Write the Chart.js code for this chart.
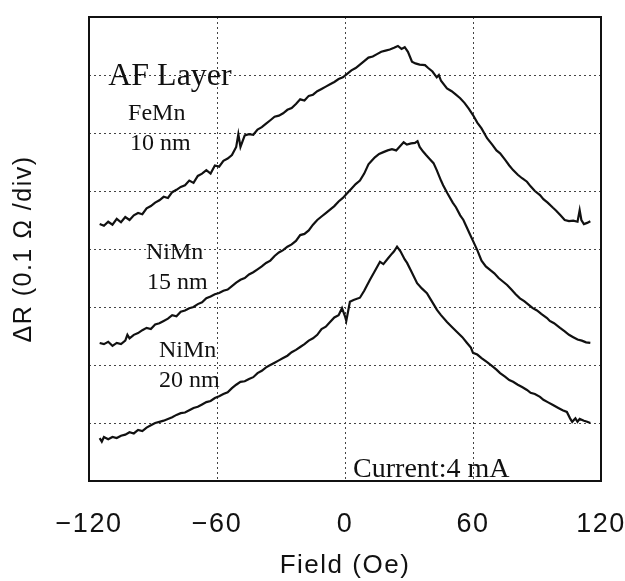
<!DOCTYPE html>
<html>
<head>
<meta charset="utf-8">
<script src="https://cdn.jsdelivr.net/npm/chart.js@4"></script>
<style>
  html, body { margin: 0; padding: 0; background: #fff; }
  #chart { display: block; }
</style>
</head>
<body>
<canvas id="chart" width="625" height="581"></canvas>
<script>
// Field (Oe) / Delta R (divisions, 0.1 ohm each)
const feMnField = [-115,-113,-111,-109,-107,-105,-103,-101,-99,-97,-95,-93,-91,-89,-87,-85,-83,-81,-79,-77,-75,-73,-71,-69,-67,-65,-63,-61,-59,-57,-55,-53,-51,-50,-49,-47,-45,-43,-41,-39,-37,-35,-33,-31,-29,-27,-25,-23,-21,-19,-17,-15,-13,-11,-9,-7,-5,-3,-1,1,3,5,7,9,11,13,15,17,19,21,23,24.8,26.5,28,29.5,31.4,33,35,37.5,39,41,43,44,45,47.8,50,52,54,56,58,60,62,64,66.6,69,71,72.7,75,77,78.8,81,83,85.3,87,89,91.4,93,95,97.5,99,101,103,105,107,109,110,110.8,112,113.5,115];
const feMnDR = [4.43,4.40,4.47,4.42,4.52,4.46,4.55,4.50,4.58,4.62,4.60,4.70,4.74,4.80,4.84,4.90,4.88,4.98,5.02,5.07,5.10,5.18,5.14,5.26,5.30,5.36,5.30,5.44,5.42,5.52,5.56,5.62,5.76,5.98,5.76,5.96,5.98,5.97,6.06,6.10,6.16,6.22,6.28,6.30,6.34,6.40,6.43,6.50,6.58,6.56,6.64,6.66,6.72,6.76,6.80,6.84,6.88,6.93,6.96,7.02,7.08,7.12,7.18,7.24,7.30,7.32,7.36,7.40,7.42,7.44,7.47,7.50,7.45,7.48,7.40,7.23,7.20,7.18,7.17,7.12,7.06,6.96,7.00,6.90,6.77,6.72,6.66,6.60,6.52,6.42,6.31,6.18,6.08,5.91,5.80,5.70,5.65,5.54,5.44,5.36,5.28,5.22,5.16,5.08,5.00,4.93,4.86,4.80,4.71,4.66,4.58,4.50,4.48,4.49,4.47,4.67,4.50,4.43,4.45,4.48];

const niMn15Field = [-115,-113,-111,-109,-107,-105,-103,-102,-101,-99,-97,-95,-93,-91,-89,-87,-85,-83,-81,-79,-77,-75,-73,-71,-69,-67,-65,-63,-61,-59,-57,-55,-53,-51,-49,-47,-45,-43,-41,-39,-37,-35,-33,-31,-29,-27,-25,-23,-21,-19,-17,-15,-13,-11,-9,-7,-5,-3,-1,1,3,5,7,9,11,12.5,14,16,18,20,22,24,26,27.5,29,31,32.8,34,35,36.6,38,40,41.5,43,45,46,48,50.5,52,54,55.5,57,58.5,60,62,64,66,68,70,72,74,76,78,80,82,84,86,88,90,92,94.7,96,98,100.8,103,105,107,109,111,113,115];
const niMn15DR = [2.38,2.36,2.40,2.33,2.38,2.36,2.42,2.52,2.46,2.52,2.55,2.60,2.64,2.62,2.70,2.72,2.76,2.80,2.86,2.84,2.92,2.94,2.98,3.00,3.05,3.08,3.15,3.18,3.22,3.24,3.28,3.30,3.36,3.42,3.47,3.50,3.56,3.60,3.65,3.70,3.76,3.80,3.88,3.94,3.98,4.04,4.08,4.14,4.24,4.26,4.32,4.42,4.50,4.56,4.62,4.68,4.74,4.82,4.88,4.96,5.04,5.12,5.18,5.30,5.46,5.52,5.58,5.64,5.67,5.70,5.72,5.70,5.78,5.84,5.80,5.82,5.83,5.86,5.76,5.68,5.62,5.54,5.48,5.36,5.18,5.10,4.96,4.80,4.72,4.58,4.50,4.38,4.26,4.14,3.98,3.80,3.70,3.64,3.58,3.50,3.44,3.38,3.30,3.22,3.15,3.10,3.04,2.98,2.94,2.88,2.81,2.76,2.72,2.64,2.58,2.52,2.48,2.44,2.42,2.39,2.38];

const niMn20Field = [-115,-114,-113,-111,-109,-107,-105,-103,-101,-99,-97,-95,-93,-91,-89,-87,-85,-83,-81,-79,-77,-75,-73,-71,-69,-67,-65,-63,-61,-59,-57,-55,-53,-51,-49,-47,-45,-43,-41,-39,-37,-35,-33,-31,-29,-27,-25,-23,-21,-19,-17,-15,-13,-11,-9,-7,-5,-3,-1.4,0,0.6,2.3,4,7,9,11.7,14,16.4,18,20.2,22,23,24.4,26,28,29.1,31,33.8,36,38.4,40,42,43.1,45,47.8,50,52.5,55,57.2,59,60,62,64,66.6,69,71,72.7,75,77,78.8,81,83,85.3,87,89,91.4,93,95,97.5,100,102,104,105.5,106.5,108,109,110,112,113.5,115];
const niMn20DR = [0.74,0.68,0.76,0.72,0.76,0.74,0.78,0.80,0.84,0.82,0.88,0.86,0.92,0.96,1.00,1.02,1.04,1.07,1.10,1.14,1.17,1.18,1.22,1.26,1.28,1.32,1.36,1.38,1.43,1.46,1.50,1.53,1.60,1.66,1.71,1.72,1.76,1.79,1.86,1.90,1.96,2.00,2.04,2.08,2.12,2.16,2.22,2.26,2.31,2.36,2.42,2.46,2.52,2.62,2.66,2.74,2.82,2.86,2.98,2.84,2.76,3.09,3.12,3.16,3.28,3.47,3.62,3.78,3.74,3.84,3.92,3.96,4.04,3.96,3.82,3.76,3.62,3.41,3.32,3.24,3.14,3.02,2.95,2.86,2.74,2.66,2.57,2.48,2.38,2.30,2.21,2.18,2.12,2.05,1.98,1.92,1.86,1.80,1.74,1.71,1.66,1.62,1.57,1.52,1.50,1.45,1.40,1.36,1.31,1.26,1.22,1.19,1.08,1.02,1.08,1.02,1.07,1.04,1.02,1.00];

const xTicks = [-120, -60, 0, 60, 120];

// Text labels inside the plot (x in Oe, y in divisions)
const notes = [
  { text: 'AF Layer', x: -111, y: 6.83, size: 32 },
  { text: 'FeMn', x: -101.7, y: 6.22, size: 24 },
  { text: '10 nm', x: -100.8, y: 5.71, size: 24 },
  { text: 'NiMn', x: -93.3, y: 3.83, size: 24 },
  { text: '15 nm', x: -92.8, y: 3.31, size: 24 },
  { text: 'NiMn', x: -87.2, y: 2.14, size: 24 },
  { text: '20 nm', x: -87.2, y: 1.62, size: 24 },
  { text: 'Current:4 mA', x: 3.8, y: 0.07, size: 28 }
];

function toPoints(xs, ys) {
  return xs.map((x, i) => ({ x: x, y: ys[i] }));
}

function trace(xs, ys) {
  return {
    data: toPoints(xs, ys),
    borderColor: '#111',
    borderWidth: 2.2,
    pointRadius: 0,
    tension: 0,
    fill: false
  };
}

// espacement des lettres pour les textes d'axes (police type "machine")
const spacing = {
  id: 'spacing',
  beforeUpdate(chart) {
    chart.ctx.letterSpacing = '1.5px';
  }
};

// cadre + annotations
const frameAndNotes = {
  id: 'frameAndNotes',
  afterDatasetsDraw(chart) {
    const ctx = chart.ctx;
    const a = chart.chartArea;
    const xs = chart.scales.x, ys = chart.scales.y;
    ctx.save();
    ctx.letterSpacing = '0px';
    ctx.strokeStyle = '#111';
    ctx.lineWidth = 2;
    ctx.strokeRect(a.left, a.top, a.right - a.left, a.bottom - a.top);
    ctx.fillStyle = '#111';
    ctx.textBaseline = 'alphabetic';
    ctx.textAlign = 'left';
    notes.forEach(n => {
      ctx.font = n.size + 'px "Liberation Serif", "Times New Roman", serif';
      ctx.fillText(n.text, xs.getPixelForValue(n.x), ys.getPixelForValue(n.y));
    });
    ctx.restore();
  }
};

new Chart(document.getElementById('chart'), {
  type: 'line',
  data: {
    datasets: [
      trace(feMnField, feMnDR),
      trace(niMn15Field, niMn15DR),
      trace(niMn20Field, niMn20DR)
    ]
  },
  options: {
    responsive: false,
    animation: false,
    devicePixelRatio: 1,
    layout: { padding: { left: 0, right: 24, top: 17, bottom: 0 } },
    plugins: {
      legend: { display: false },
      tooltip: { enabled: false }
    },
    scales: {
      x: {
        type: 'linear',
        min: -120,
        max: 120,
        afterBuildTicks(scale) {
          scale.ticks = xTicks.map(v => ({ value: v }));
        },
        afterFit(scale) {
          scale.height = 100;
          scale.paddingLeft = 0;
          scale.paddingRight = 0;
        },
        grid: { color: '#444', lineWidth: 1, drawTicks: false },
        border: { display: false, dash: [2, 3] },
        ticks: {
          color: '#111',
          padding: 27,
          maxRotation: 0,
          callback: v => String(v).replace('-', '\u2212'),
          font: { family: '"Liberation Sans", Arial, sans-serif', size: 27 }
        },
        title: {
          display: true,
          text: 'Field (Oe)',
          color: '#111',
          padding: { top: 0, bottom: 0 },
          font: { family: '"Liberation Sans", Arial, sans-serif', size: 26 }
        }
      },
      y: {
        type: 'linear',
        min: 0,
        max: 8,
        ticks: { display: false, stepSize: 1 },
        afterFit(scale) {
          scale.width = 89;
          scale.paddingTop = 0;
          scale.paddingBottom = 0;
        },
        grid: { color: '#444', lineWidth: 1, drawTicks: false },
        border: { display: false, dash: [2, 3] },
        title: {
          display: true,
          text: 'ΔR (0.1 Ω /div)',
          color: '#111',
          padding: { top: 9, bottom: 0 },
          font: { family: '"Liberation Sans", Arial, sans-serif', size: 25 }
        }
      }
    }
  },
  plugins: [spacing, frameAndNotes]
});
</script>
</body>
</html>
